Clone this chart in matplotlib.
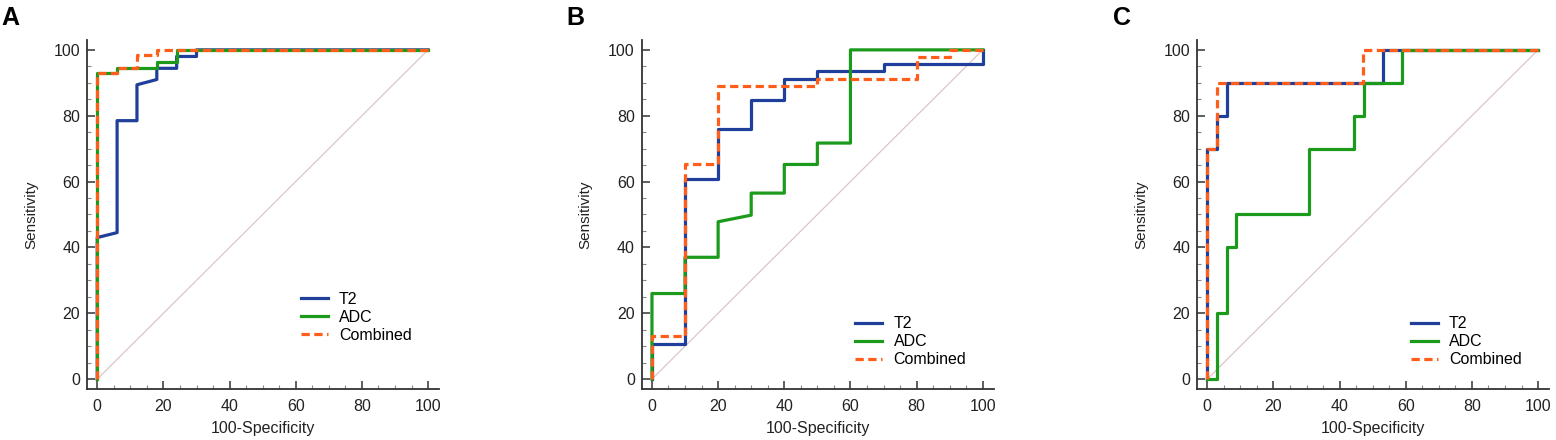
import matplotlib
matplotlib.use("Agg")
import matplotlib.pyplot as plt
from matplotlib.ticker import MultipleLocator

plt.rcParams['font.family'] = ['Liberation Sans', 'DejaVu Sans']

# ROC step curves: (100-Specificity, Sensitivity)
a_t2_x = [0, 0, 6, 6, 12, 12, 18, 18, 24, 24, 30, 30, 100]
a_t2_y = [0, 43, 44.5, 78.5, 78.5, 89.4, 91, 94.4, 94.4, 98, 98, 100, 100]
a_adc_x = [0, 0, 6, 6, 18, 18, 24, 24, 100]
a_adc_y = [0, 93, 93, 94.6, 94.6, 96.4, 96.4, 100, 100]
a_comb_x = [0, 0, 6, 6, 12, 12, 18, 18, 100]
a_comb_y = [0, 93, 93, 94.6, 94.6, 98.3, 98.3, 100, 100]

b_t2_x = [0, 0, 10, 10, 20, 20, 30, 30, 40, 40, 50, 50, 70, 70, 100, 100]
b_t2_y = [0, 10.7, 10.7, 60.7, 60.7, 76, 76, 84.8, 84.8, 91.3, 91.3, 93.5, 93.5, 95.6, 95.6, 100]
b_adc_x = [0, 0, 10, 10, 20, 20, 30, 30, 40, 40, 50, 50, 60, 60, 100]
b_adc_y = [0, 26, 26, 37, 37, 47.8, 49.8, 56.5, 56.5, 65.2, 65.2, 71.7, 71.7, 100, 100]
b_comb_x = [0, 0, 10, 10, 20, 20, 50, 50, 80, 80, 90, 90, 100]
b_comb_y = [0, 13, 13, 65.2, 65.2, 89.1, 89.1, 91.3, 91.3, 97.8, 97.8, 100, 100]

c_t2_x = [0, 0, 3, 3, 6, 6, 53, 53, 100]
c_t2_y = [0, 70, 70, 80, 80, 90, 90, 100, 100]
c_adc_x = [0, 3, 3, 6, 6, 8.6, 8.6, 30.8, 30.8, 44.5, 44.5, 47.5, 47.5, 58.8, 58.8, 100]
c_adc_y = [0, 0, 20, 20, 40, 40, 50, 50, 70, 70, 80, 80, 90, 90, 100, 100]
c_comb_x = [0, 0, 3, 3, 47.2, 47.2, 100]
c_comb_y = [0, 70, 70, 90, 90, 100, 100]

panels = [
    ('A', (a_t2_x, a_t2_y), (a_adc_x, a_adc_y), (a_comb_x, a_comb_y)),
    ('B', (b_t2_x, b_t2_y), (b_adc_x, b_adc_y), (b_comb_x, b_comb_y)),
    ('C', (c_t2_x, c_t2_y), (c_adc_x, c_adc_y), (c_comb_x, c_comb_y)),
]
series_names = ['T2', 'ADC', 'Combined']

BLUE = '#1f3f9a'
GREEN = '#1c9a1c'
ORANGE = '#ff5e1a'
DIAG = '#dcc6c8'

W, H = 1556, 440
fig = plt.figure(figsize=(W / 100, H / 100), dpi=100)

ax_left_px = [87, 641.7, 1197]
letter_px = [1, 566, 1113]
legend_y = [0.31, 0.24, 0.24]
ax_w_px, ax_top_px, ax_bot_px = 352, 40, 389

for i, (letter, t2, adc, comb) in enumerate(panels):
    ax = fig.add_axes([ax_left_px[i] / W, (H - ax_bot_px) / H,
                       ax_w_px / W, (ax_bot_px - ax_top_px) / H])
    ax.plot([0, 100], [0, 100], color=DIAG, lw=0.9, zorder=1)
    ax.plot(t2[0], t2[1], color=BLUE, lw=2.3, label=series_names[0], zorder=2)
    ax.plot(adc[0], adc[1], color=GREEN, lw=2.3, label=series_names[1], zorder=3)
    ax.plot(comb[0], comb[1], color=ORANGE, lw=2.3, dashes=(2.6, 1.4),
            label=series_names[2], zorder=4)

    ax.set_xlim(-3.1, 103.3)
    ax.set_ylim(-3, 103)
    ax.xaxis.set_major_locator(MultipleLocator(20))
    ax.xaxis.set_minor_locator(MultipleLocator(5))
    ax.yaxis.set_major_locator(MultipleLocator(20))
    ax.yaxis.set_minor_locator(MultipleLocator(5))
    ax.tick_params(which='major', direction='in', length=6, width=1.1,
                   labelsize=11.5, color='#333333', labelcolor='#222222')
    ax.tick_params(which='minor', direction='in', length=3, width=0.8,
                   color='#888888')
    ax.tick_params(axis='x', pad=7)
    ax.tick_params(axis='y', pad=5)
    for s in ['top', 'right']:
        ax.spines[s].set_visible(False)
    for s in ['left', 'bottom']:
        ax.spines[s].set_linewidth(1.3)
        ax.spines[s].set_color('#333333')

    ax.set_xlabel('100-Specificity', fontsize=11.5, color='#222222', labelpad=5)
    ax.set_ylabel('Sensitivity', fontsize=11, color='#222222', labelpad=11)

    ax.legend(loc='upper left', bbox_to_anchor=(0.575, legend_y[i]),
              frameon=False, fontsize=11.5, handlelength=1.7,
              handletextpad=0.7, labelspacing=0.18, borderpad=0.2)

    fig.text(letter_px[i] / W, 1 - 6 / H, letter, fontsize=18,
             fontweight='bold', ha='left', va='top')

fig.savefig('out.png', dpi=100)
